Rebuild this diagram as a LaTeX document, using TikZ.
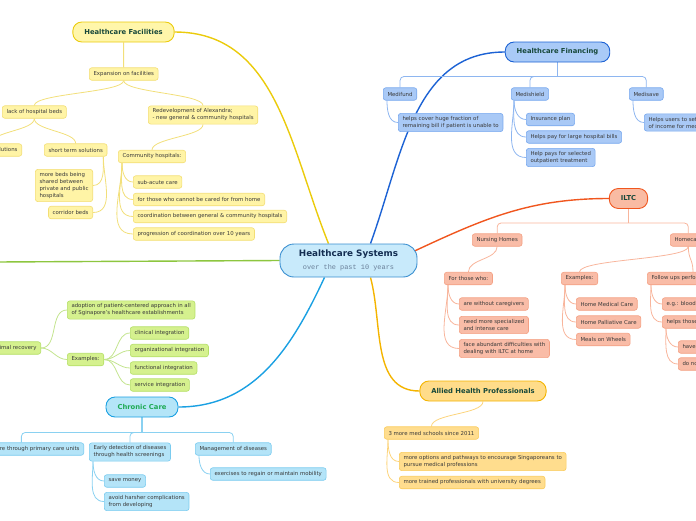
\documentclass[tikz,border=0pt]{standalone}
\usepackage{fontspec}
\setmainfont{DejaVu Sans}
\newfontfamily\subtitlefont{Liberation Mono}
\usepackage{xcolor}

\definecolor{hubfill}{HTML}{C8EAFB}
\definecolor{hubdraw}{HTML}{3A8FD0}
\definecolor{hubtext}{HTML}{142E52}
\definecolor{subtext}{HTML}{6A8099}
\definecolor{topictext}{HTML}{17483A}
\definecolor{leaftext}{HTML}{3A3A3A}
% facilities
\definecolor{facmain}{HTML}{EBCB0C}
\definecolor{factop}{HTML}{FFF6AA}
\definecolor{facfill}{HTML}{FFF4A6}
\definecolor{facdraw}{HTML}{F3DE74}
\definecolor{facline}{HTML}{F2DF7A}
% financing
\definecolor{finmain}{HTML}{1C62D4}
\definecolor{fintop}{HTML}{A9CAF7}
\definecolor{finfill}{HTML}{A9C9F6}
\definecolor{findraw}{HTML}{78A8EE}
\definecolor{finline}{HTML}{8EB6F0}
% ILTC
\definecolor{ltcmain}{HTML}{F0561E}
\definecolor{ltctop}{HTML}{F9BBA3}
\definecolor{ltcfill}{HTML}{F9BCA7}
\definecolor{ltcdraw}{HTML}{F4A083}
\definecolor{ltcline}{HTML}{F8B59C}
% allied health
\definecolor{ahpmain}{HTML}{F4B400}
\definecolor{ahptop}{HTML}{FFDC8A}
\definecolor{ahpfill}{HTML}{FFDD8E}
\definecolor{ahpdraw}{HTML}{FACB5C}
\definecolor{ahpline}{HTML}{FCD47C}
% chronic care
\definecolor{ccmain}{HTML}{1AA0E2}
\definecolor{cctop}{HTML}{B4E5F8}
\definecolor{ccfill}{HTML}{B4E4F8}
\definecolor{ccdraw}{HTML}{7ACBEF}
\definecolor{ccline}{HTML}{8AD1F1}
\definecolor{cctext}{HTML}{1EAA55}
% left branch
\definecolor{grnmain}{HTML}{8DC63F}
\definecolor{grnfill}{HTML}{D5F18E}
\definecolor{grndraw}{HTML}{B4DF66}
\definecolor{grnline}{HTML}{C3E48E}

\pgfdeclarelayer{bg}
\pgfsetlayers{bg,main}

\begin{document}
\begin{tikzpicture}[x=1pt, y=1pt,
  hub/.style={rounded corners=14pt, line width=0.9pt, fill=hubfill, draw=hubdraw, text=hubtext, align=center, minimum width=137pt, minimum height=33pt, inner ysep=4pt},
  topic/.style={rounded corners=9pt, line width=0.9pt, inner xsep=11.5pt, minimum height=20pt, text=topictext, font=\fontsize{6.8}{8}\selectfont\bfseries},
  leaf/.style={rounded corners=2.5pt, line width=0.6pt, inner xsep=4.2pt, inner ysep=3pt, minimum height=12.5pt, align=left, text=leaftext, font=\fontsize{5.4}{7}\selectfont},
  facbox/.style={leaf, fill=facfill, draw=facdraw},
  finbox/.style={leaf, fill=finfill, draw=findraw},
  ltcbox/.style={leaf, fill=ltcfill, draw=ltcdraw},
  ahpbox/.style={leaf, fill=ahpfill, draw=ahpdraw},
  ccbox/.style={leaf, fill=ccfill, draw=ccdraw},
  grnbox/.style={leaf, fill=grnfill, draw=grndraw},
  facln/.style={facline, line width=0.8pt},
  finln/.style={finline, line width=0.8pt},
  ltcln/.style={ltcline, line width=0.8pt},
  ahpln/.style={ahpline, line width=0.8pt},
  ccln/.style={ccline, line width=0.8pt},
  grnln/.style={grnline, line width=0.8pt},
  mainln/.style={line width=1.4pt}]
\useasboundingbox (0,0) rectangle (696,-520);
\clip (0,0) rectangle (696,-520);

% centre
\node[hub] (hs) at (348.5,-260.5) {{\fontsize{8.8}{10}\selectfont\bfseries Healthcare Systems}\\[0.5pt]{\subtitlefont\fontsize{6.9}{8}\selectfont\color{subtext}over the past 10 years}};

% main topics
\node[topic, fill=factop, draw=facmain] (hfac) at (123.5,-32) {Healthcare Facilities};
\node[topic, fill=fintop, draw=finmain] (hfin) at (557.5,-52) {Healthcare Financing};
\node[topic, fill=ltctop, draw=ltcmain] (iltc) at (628.5,-198.5) {ILTC};
\node[topic, fill=ahptop, draw=ahpmain] (ahp) at (483,-391) {Allied Health Professionals};
\node[topic, fill=cctop, draw=ccmain, text=cctext] (chron) at (142,-407) {Chronic Care};
\coordinate (grnend) at (-4,-262);

% healthcare facilities
\node[facbox, anchor=west] (expand) at (89,-74) {Expansion on facilities};
\node[facbox, anchor=west] (lackbeds) at (2,-112) {lack of hospital beds};
\node[facbox, anchor=west] (redev) at (148,-115) {Redevelopment of Alexandra;\\- new general \& community hospitals};
\node[facbox, anchor=east] (longterm) at (22,-150) {long term solutions};
\node[facbox, anchor=west] (shortterm) at (44,-150) {short term solutions};
\node[facbox, anchor=east] (morebeds) at (93,-185.5) {more beds being\\shared between\\private and public\\hospitals};
\node[facbox, anchor=east] (corridor) at (93,-212.5) {corridor beds};
\node[facbox, anchor=west] (commhosp) at (118,-156.5) {Community hospitals:};
\node[facbox, anchor=west] (acute) at (133,-182) {sub-acute care};
\node[facbox, anchor=west] (cannot) at (133,-199.5) {for those who cannot be cared for from home};
\node[facbox, anchor=west] (coord) at (133,-216.5) {coordination between general \& community hospitals};
\node[facbox, anchor=west] (progress) at (133,-234) {progression of coordination over 10 years};

% healthcare financing
\node[finbox, anchor=west] (medifund) at (383,-94) {Medifund};
\node[finbox, anchor=west] (medishield) at (511,-94) {Medishield};
\node[finbox, anchor=west] (medisave) at (629,-94) {Medisave};
\node[finbox, anchor=west] (mfcover) at (398,-122.5) {helps cover huge fraction of\\remaining bill if patient is unable to};
\node[finbox, anchor=west] (insure) at (526,-119.5) {Insurance plan};
\node[finbox, anchor=west] (largebills) at (526,-137) {Helps pay for large hospital bills};
\node[finbox, anchor=west] (outpatient) at (526,-157.5) {Help pays for selected\\outpatient treatment};
\node[finbox, anchor=west] (msusers) at (644,-122.5) {Helps users to set aside part\\of income for medical needs};

% ILTC
\node[ltcbox, anchor=west] (nursing) at (472,-240) {Nursing Homes};
\node[ltcbox, anchor=west] (homecare) at (670,-240) {Homecare};
\node[ltcbox, anchor=west] (forthose) at (444,-278.5) {For those who:};
\node[ltcbox, anchor=west] (nocare) at (459,-304) {are without caregivers};
\node[ltcbox, anchor=west] (specialized) at (459,-325) {need more specialized\\and intense care};
\node[ltcbox, anchor=west] (difficult) at (459,-348.5) {face abundant difficulties with\\dealing with ILTC at home};
\node[ltcbox, anchor=west] (ltcex) at (561,-278.5) {Examples:};
\node[ltcbox, anchor=west] (medical) at (576,-304) {Home Medical Care};
\node[ltcbox, anchor=west] (palliative) at (576,-322) {Home Palliative Care};
\node[ltcbox, anchor=west] (meals) at (576,-339.5) {Meals on Wheels};
\node[ltcbox, anchor=west] (followup) at (647,-278.5) {Follow ups performed};
\node[ltcbox, anchor=west] (bloodp) at (662,-304) {e.g.: blood pressure};
\node[ltcbox, anchor=west] (helpsthose) at (662,-322) {helps those who};
\node[ltcbox, anchor=west] (have) at (678,-347) {have limited mobility};
\node[ltcbox, anchor=west] (donot) at (678,-364) {do not have caregivers};

% allied health professionals
\node[ahpbox, anchor=west] (medschool) at (384,-433) {3 more med schools since 2011};
\node[ahpbox, anchor=west] (pathways) at (399,-461.5) {more options and pathways to encourage Singaporeans to\\pursue medical professions};
\node[ahpbox, anchor=west] (trained) at (399,-482.5) {more trained professionals with university degrees};

% chronic care
\node[ccbox, anchor=east] (primary) at (84,-449) {Preventive care through primary care units};
\node[ccbox, anchor=west] (early) at (89,-452) {Early detection of diseases\\through health screenings};
\node[ccbox, anchor=west] (manage) at (195,-449) {Management of diseases};
\node[ccbox, anchor=west] (savemoney) at (104,-481) {save money};
\node[ccbox, anchor=west] (harsher) at (104,-501.5) {avoid harsher complications\\from developing};
\node[ccbox, anchor=west] (exercise) at (210,-474) {exercises to regain or maintain mobility};

% left branch
\node[grnbox, anchor=east] (optimal) at (41,-348) {Integrated care for optimal recovery};
\node[grnbox, anchor=west] (adoption) at (67,-310) {adoption of patient-centered approach in all\\of Sginapore's healthcare establishments};
\node[grnbox, anchor=west] (grnex) at (67,-359.5) {Examples:};
\node[grnbox, anchor=west] (clinical) at (130,-333) {clinical integration};
\node[grnbox, anchor=west] (organise) at (130,-350.5) {organizational integration};
\node[grnbox, anchor=west] (functional) at (130,-368) {functional integration};
\node[grnbox, anchor=west] (service) at (130,-385) {service integration};

\begin{pgfonlayer}{bg}
% main branches
\draw[mainln, facmain] ([xshift=-20pt]hs.north) to[out=112,in=0] (hfac.east);
\draw[mainln, finmain] ([xshift=22pt]hs.north) to[out=70,in=180] (hfin.west);
\draw[mainln, ltcmain] ([shift={(-4pt,9pt)}]hs.east) to[out=25,in=180] (iltc.west);
\draw[mainln, ahpmain] ([xshift=22pt]hs.south) to[out=-75,in=180] (ahp.west);
\draw[mainln, ccmain] ([xshift=-24pt]hs.south) to[out=-115,in=0] (chron.east);
\draw[mainln, grnmain] (hs.west) -- (grnend);

% facilities
\draw[facln, line width=1pt] (hfac.south) -- (expand.north);
\draw[facln] (expand.south) .. controls +(0,-12) and +(0,12) .. (lackbeds.north);
\draw[facln] (expand.south) .. controls +(0,-12) and +(0,12) .. (redev.north);
\draw[facln] (lackbeds.south) .. controls +(0,-12) and +(0,12) .. (longterm.north);
\draw[facln] (lackbeds.south) .. controls +(0,-12) and +(0,12) .. (shortterm.north);
\draw[facln] ([xshift=-4pt]shortterm.south east) to[out=-90,in=0] (morebeds.east);
\draw[facln] ([xshift=-4pt]shortterm.south east) to[out=-90,in=0] (corridor.east);
\draw[facln] (redev.south) .. controls +(0,-12) and +(0,12) .. (commhosp.north);
\foreach \n in {acute,cannot,coord,progress}
  \draw[facln] ([xshift=4pt]commhosp.south west) to[out=-90,in=180] (\n.west);

% financing
\coordinate (finbar) at ([yshift=-14pt]hfin.south);
\draw[finln, line width=1.6pt] (hfin.south) -- (finbar);
\draw[finln, rounded corners=4pt] (medifund.north) |- (finbar) -| (medisave.north);
\draw[finln, rounded corners=4pt] (medishield.north) |- (finbar);
\draw[finln] ([xshift=4pt]medifund.south west) to[out=-90,in=180] (mfcover.west);
\foreach \n in {insure,largebills,outpatient}
  \draw[finln] ([xshift=3pt]medishield.south west) to[out=-90,in=180] (\n.west);
\draw[finln] ([xshift=4pt]medisave.south west) to[out=-90,in=180] (msusers.west);

% ILTC
\coordinate (ltcbar) at ([yshift=-14pt]iltc.south);
\draw[ltcln, line width=1.4pt] (iltc.south) -- (ltcbar);
\draw[ltcln, rounded corners=4pt] (nursing.north) |- (ltcbar) -| (homecare.north);
\draw[ltcln] (nursing.south) .. controls +(0,-13) and +(0,13) .. (forthose.north);
\draw[ltcln] (homecare.south) .. controls +(0,-13) and +(0,13) .. (ltcex.north);
\draw[ltcln] (homecare.south) .. controls +(0,-13) and +(0,13) .. ([xshift=46pt]followup.north west);
\foreach \n in {nocare,specialized,difficult}
  \draw[ltcln] ([xshift=4pt]forthose.south west) to[out=-90,in=180] (\n.west);
\foreach \n in {medical,palliative,meals}
  \draw[ltcln] ([xshift=4pt]ltcex.south west) to[out=-90,in=180] (\n.west);
\foreach \n in {bloodp,helpsthose}
  \draw[ltcln] ([xshift=4pt]followup.south west) to[out=-90,in=180] (\n.west);
\foreach \n in {have,donot}
  \draw[ltcln] ([xshift=4pt]helpsthose.south west) to[out=-90,in=180] (\n.west);

% allied health
\draw[ahpln] (ahp.south) .. controls +(0,-13) and +(0,13) .. (medschool.north);
\foreach \n in {pathways,trained}
  \draw[ahpln] ([xshift=4pt]medschool.south west) to[out=-90,in=180] (\n.west);

% chronic care
\coordinate (ccbar) at ([yshift=-15pt]chron.south);
\draw[ccln, line width=1.4pt] (chron.south) -- (ccbar);
\draw[ccln, rounded corners=4pt] (primary.north) |- (ccbar) -| (manage.north);
\draw[ccln, rounded corners=4pt] (early.north) |- (ccbar);
\foreach \n in {savemoney,harsher}
  \draw[ccln] ([xshift=4pt]early.south west) to[out=-90,in=180] (\n.west);
\draw[ccln] ([xshift=4pt]manage.south west) to[out=-90,in=180] (exercise.west);

% left branch
\foreach \n in {adoption,grnex}
  \draw[grnln] (optimal.east) to[out=0,in=180] (\n.west);
\foreach \n in {clinical,organise,functional,service}
  \draw[grnln] (grnex.east) to[out=0,in=180] (\n.west);
\end{pgfonlayer}
\end{tikzpicture}
\end{document}
